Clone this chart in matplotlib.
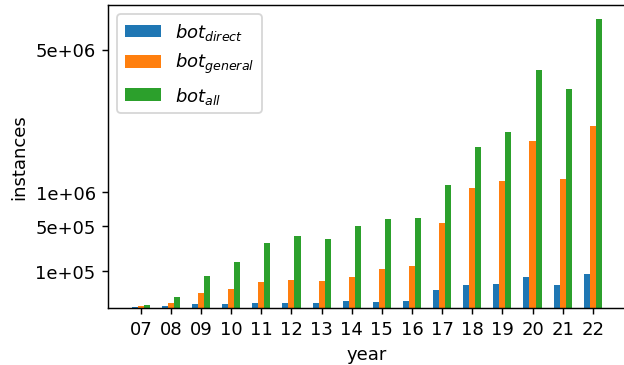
import numpy as np
import matplotlib
matplotlib.use("Agg")
import matplotlib.pyplot as plt

years = ["07", "08", "09", "10", "11", "12", "13", "14", "15", "16",
         "17", "18", "19", "20", "21", "22"]
bot_direct = [50, 170, 900, 900, 1500, 1500, 1500, 3100, 2200, 3100,
              22700, 37600, 41000, 69300, 37600, 83600]
bot_general = [170, 1500, 15800, 25700, 48700, 56700, 52300, 69300, 110500, 128500,
               534000, 1068700, 1197600, 2075600, 1235900, 2466700]
bot_all = [470, 8300, 74400, 155200, 311800, 383200, 350600, 496700, 585700, 599000,
           1123000, 1928500, 2306000, 4224700, 3575700, 6234600]

ytick_vals = [1e5, 5e5, 1e6, 5e6]
ytick_labels = ["1e+05", "5e+05", "1e+06", "5e+06"]

fig = plt.figure(figsize=(4.8, 2.815), dpi=130)
ax = fig.add_axes([108.3 / 624, 57.5 / 366, 517 / 624, 302.5 / 366])

x = np.arange(len(years))
w = 0.2
ax.bar(x - w, bot_direct, w, label=r"$bot_{direct}$")
ax.bar(x, bot_general, w, label=r"$bot_{general}$")
ax.bar(x + w, bot_all, w, label=r"$bot_{all}$")

ax.set_yscale("function", functions=(np.sqrt, lambda v: np.square(v)))
# sqrt scale: start at zero, 5% headroom in transformed space
ax.set_ylim(0, (np.sqrt(max(bot_all)) * 1.05) ** 2)
ax.set_yticks(ytick_vals)
ax.set_yticklabels(ytick_labels)
ax.set_xticks(x)
ax.set_xticklabels(years)
ax.set_xlabel("year")
ax.set_ylabel("instances")
ax.legend(loc="upper left")

fig.savefig("out.png", dpi=130)
